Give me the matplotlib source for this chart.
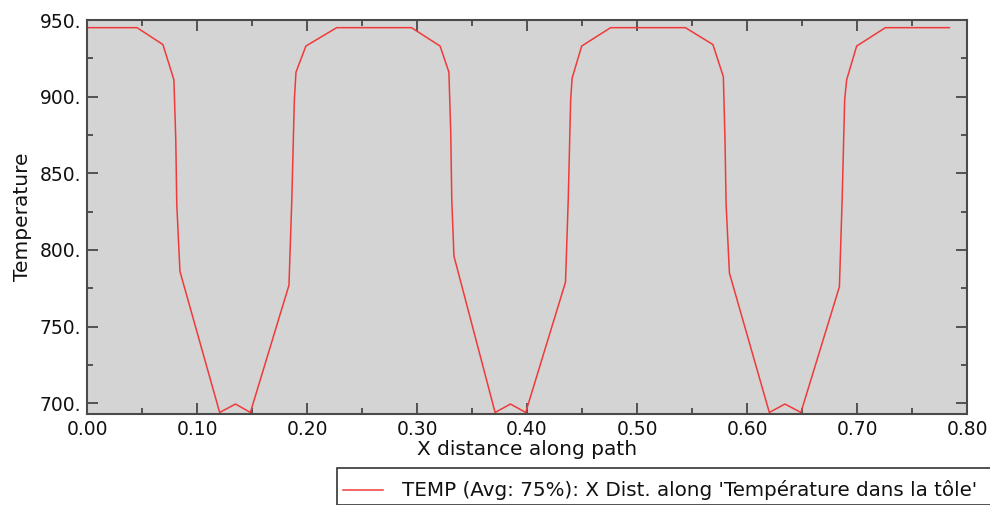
import matplotlib
matplotlib.use("Agg")
import matplotlib.pyplot as plt
from matplotlib.ticker import FormatStrFormatter, MultipleLocator
from matplotlib.patches import Rectangle
from matplotlib.lines import Line2D

# path distance and temperature (three dips)
dist = [0.000, 0.0455, 0.069, 0.079, 0.0807, 0.0816, 0.0845, 0.1206, 0.135, 0.1485,
        0.1836, 0.1862, 0.1885, 0.190, 0.199, 0.227,
        0.295, 0.321, 0.329, 0.3307, 0.3316, 0.3336, 0.371, 0.385, 0.3988,
        0.435, 0.4375, 0.4397, 0.441, 0.4497, 0.476,
        0.544, 0.569, 0.5785, 0.580, 0.581, 0.584, 0.6203, 0.6345, 0.649,
        0.684, 0.6865, 0.6888, 0.6906, 0.6997, 0.7258, 0.784]
temp = [945, 945, 934, 911, 872, 830, 786, 694, 699.5, 694,
        777, 833, 898, 916, 933, 945,
        945, 933, 916, 876, 833, 796, 694, 699.5, 694,
        779, 833, 898, 912, 933, 945,
        945, 934, 913, 872, 830, 785, 694, 699.5, 694,
        776, 833, 898, 911, 933, 945, 945]

x_ticks = [0.0, 0.1, 0.2, 0.3, 0.4, 0.5, 0.6, 0.7, 0.8]
y_ticks = [700, 750, 800, 850, 900, 950]
legend_label = "TEMP (Avg: 75%): X Dist. along 'Température dans la tôle'"

plt.rcParams["font.family"] = "DejaVu Sans"

fig = plt.figure(figsize=(9.9, 5.05), dpi=100)
ax = fig.add_axes([87 / 990, 1 - 414 / 505, 880 / 990, 394 / 505])
ax.set_facecolor("#d4d4d4")

ax.plot(dist, temp, color="#f03a3a", linewidth=1.1)

ax.set_xlim(0, 0.8)
ax.set_ylim(693, 950)
ax.set_xticks(x_ticks)
ax.set_yticks(y_ticks)
ax.xaxis.set_minor_locator(MultipleLocator(0.05))
ax.yaxis.set_minor_locator(MultipleLocator(25))
ax.xaxis.set_major_formatter(FormatStrFormatter("%.2f"))
ax.yaxis.set_major_formatter(FormatStrFormatter("%d."))

ax.tick_params(which="both", direction="in", top=True, right=True,
               color="#3c3c3c", width=1.2, labelsize=13.5, labelcolor="#111111")
ax.tick_params(which="major", length=8, pad=4)
ax.tick_params(which="minor", length=4)
for s in ax.spines.values():
    s.set_color("#4a4a4a")
    s.set_linewidth(1.5)

ax.set_xlabel("X distance along path", fontsize=14.5, color="#111111", labelpad=1)
ax.set_ylabel("Temperature", fontsize=14.5, color="#111111", labelpad=6)

# legend box below the plot, drawn in figure pixels
fig.patches.append(Rectangle((337 / 990, 0), 660 / 990, 37 / 505,
                             transform=fig.transFigure, facecolor="white",
                             edgecolor="#333333", linewidth=1.2))
fig.lines.append(Line2D([343 / 990, 383 / 990], [1 - 490 / 505] * 2,
                        transform=fig.transFigure, color="#f03a3a", linewidth=1.1))
fig.text(402 / 990, 1 - 490 / 505, legend_label, fontsize=14.3,
         color="#111111", va="center", ha="left")

fig.savefig("out.png", dpi=100)
